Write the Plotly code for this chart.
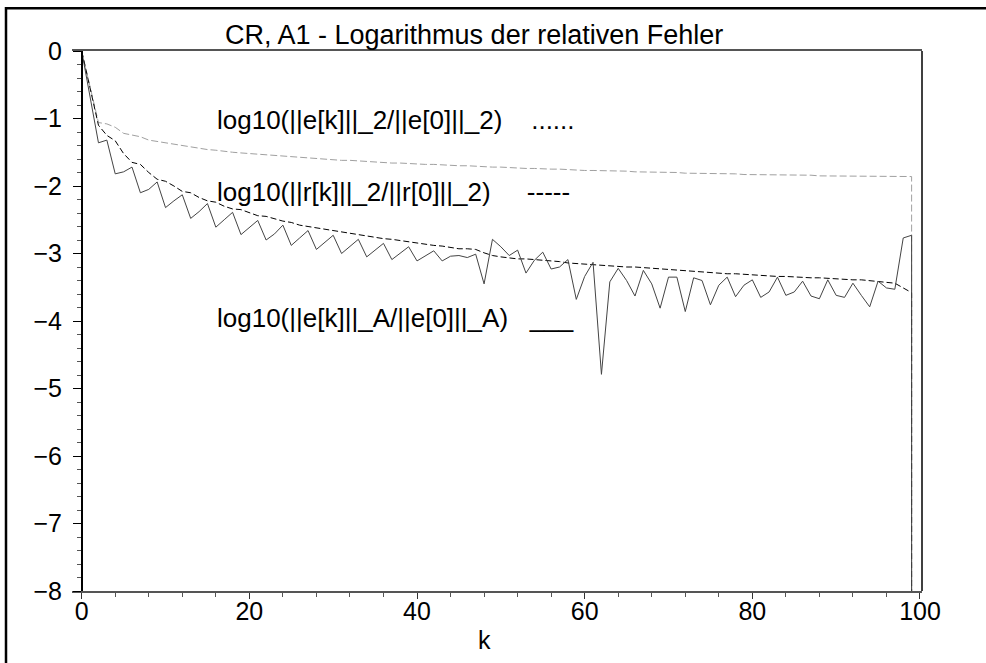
import plotly.graph_objects as go

# iteration index k (last entry repeats k=99: the exact solution, log10 -> very small)
k = list(range(100)) + [99]

err_A = [0, -0.68, -1.36, -1.32, -1.82, -1.79, -1.72, -2.10, -2.05, -1.94,
         -2.32, -2.22, -2.13, -2.48, -2.38, -2.26, -2.61, -2.50, -2.39, -2.72,
         -2.62, -2.51, -2.80, -2.71, -2.58, -2.88, -2.77, -2.66, -2.94, -2.84,
         -2.73, -3.00, -2.90, -2.79, -3.05, -2.95, -2.85, -3.09, -3.00, -2.90,
         -3.11, -3.03, -2.96, -3.11, -3.04, -3.03, -3.06, -3.01, -3.45, -2.79,
         -2.90, -3.03, -2.95, -3.29, -3.10, -2.98, -3.23, -3.20, -3.09, -3.68,
         -3.34, -3.13, -4.79, -3.42, -3.22, -3.40, -3.63, -3.25, -3.45, -3.81,
         -3.35, -3.35, -3.86, -3.36, -3.40, -3.76, -3.47, -3.35, -3.64, -3.47,
         -3.39, -3.65, -3.57, -3.35, -3.62, -3.57, -3.41, -3.63, -3.67, -3.39,
         -3.62, -3.65, -3.44, -3.62, -3.79, -3.41, -3.51, -3.53, -2.77, -2.73,
         -16.0]

res_2 = [0, -0.55, -1.10, -1.25, -1.33, -1.52, -1.65, -1.68, -1.80, -1.90,
         -1.93, -2.00, -2.08, -2.10, -2.17, -2.22, -2.24, -2.30, -2.34, -2.35,
         -2.40, -2.44, -2.45, -2.49, -2.52, -2.54, -2.58, -2.60, -2.62, -2.65,
         -2.67, -2.69, -2.71, -2.73, -2.74, -2.76, -2.78, -2.79, -2.81, -2.83,
         -2.84, -2.86, -2.88, -2.89, -2.91, -2.93, -2.93, -2.94, -2.99, -3.03,
         -3.05, -3.07, -3.08, -3.08, -3.09, -3.09, -3.11, -3.12, -3.14, -3.15,
         -3.15, -3.16, -3.17, -3.18, -3.19, -3.20, -3.20, -3.21, -3.22, -3.22,
         -3.23, -3.24, -3.25, -3.26, -3.27, -3.28, -3.29, -3.30, -3.30, -3.31,
         -3.31, -3.32, -3.33, -3.34, -3.34, -3.35, -3.35, -3.36, -3.36, -3.37,
         -3.38, -3.38, -3.39, -3.39, -3.40, -3.41, -3.42, -3.44, -3.51, -3.58,
         -16.0]

err_2 = [0, -0.53, -1.06, -1.08, -1.13, -1.22, -1.25, -1.27, -1.32, -1.34,
         -1.36, -1.39, -1.41, -1.42, -1.45, -1.46, -1.47, -1.49, -1.50, -1.51,
         -1.52, -1.53, -1.54, -1.55, -1.56, -1.57, -1.58, -1.59, -1.59, -1.60,
         -1.61, -1.62, -1.62, -1.63, -1.64, -1.64, -1.65, -1.66, -1.66, -1.67,
         -1.67, -1.68, -1.68, -1.69, -1.69, -1.70, -1.70, -1.71, -1.71, -1.72,
         -1.72, -1.73, -1.73, -1.74, -1.74, -1.75, -1.75, -1.75, -1.76, -1.76,
         -1.77, -1.77, -1.77, -1.78, -1.78, -1.78, -1.79, -1.79, -1.79, -1.80,
         -1.80, -1.80, -1.81, -1.81, -1.81, -1.82, -1.82, -1.82, -1.82, -1.83,
         -1.83, -1.83, -1.83, -1.84, -1.84, -1.84, -1.84, -1.84, -1.85, -1.85,
         -1.85, -1.85, -1.85, -1.85, -1.86, -1.86, -1.86, -1.86, -1.86, -1.86,
         -16.0]

x_ticks = [0, 20, 40, 60, 80, 100]
y_ticks = [0, -1, -2, -3, -4, -5, -6, -7, -8]
y_tick_text = ["0", "\u22121", "\u22122", "\u22123", "\u22124", "\u22125", "\u22126", "\u22127", "\u22128"]

title_text = "CR, A1 - Logarithmus der relativen Fehler"
label_e2 = "log10(||e[k]||_2/||e[0]||_2)" + "\u00a0" * 4 + "......"
label_r2 = "log10(||r[k]||_2/||r[0]||_2)" + "\u00a0" * 5 + "-----"
label_eA = "log10(||e[k]||_A/||e[0]||_A)" + "\u00a0" * 3 + "___"

FONT = "Liberation Sans, Arial, Helvetica, sans-serif"

fig = go.Figure()
fig.add_trace(go.Scatter(x=k, y=err_2, mode="lines",
                         line=dict(color="#a0a0a0", width=1, dash="7px,3px"),
                         showlegend=False, hoverinfo="skip"))
fig.add_trace(go.Scatter(x=k, y=res_2, mode="lines",
                         line=dict(color="#000000", width=1, dash="6px,3px"),
                         showlegend=False, hoverinfo="skip"))
fig.add_trace(go.Scatter(x=k, y=err_A, mode="lines",
                         line=dict(color="#444444", width=1),
                         showlegend=False, hoverinfo="skip"))

L, R, T, B = 72, 64, 51, 72
W, H = 986, 663
pw, ph = W - L - R, H - T - B

def px(xp):
    return (xp - L) / pw

def py(yp):
    return (H - B - yp) / ph

fig.update_layout(
    width=W, height=H,
    margin=dict(l=L, r=R, t=T, b=B, pad=0),
    paper_bgcolor="white", plot_bgcolor="white",
    font=dict(family=FONT, size=25, color="black"),
    xaxis=dict(range=[-1.157, 100.24], tickmode="array", tickvals=x_ticks,
               showgrid=False, zeroline=False,
               showline=True, linecolor="#555555", linewidth=2, mirror=True,
               ticks="outside", ticklen=6, tickcolor="#333333", tickwidth=1,
               ticklabelstandoff=-9,
               minor=dict(dtick=4, ticks="outside", ticklen=4, tickcolor="#555555", tickwidth=1),
               tickfont=dict(family=FONT, size=25, color="black")),
    yaxis=dict(range=[-8, 0], tickmode="array", tickvals=y_ticks, ticktext=y_tick_text,
               anchor="free", position=px(81.7),
               showgrid=False, zeroline=False,
               showline=True, linecolor="#000000", linewidth=1.5,
               ticks="outside", ticklen=8, tickcolor="#000000", tickwidth=1,
               ticklabelstandoff=6,
               minor=dict(dtick=0.2, ticks="outside", ticklen=4, tickcolor="#555555", tickwidth=1),
               tickfont=dict(family=FONT, size=25, color="black")),
)

# right border of the plot box
fig.add_shape(type="line", xref="paper", yref="paper", x0=1, x1=1, y0=0, y1=1,
              line=dict(color="black", width=1.5))
# outer frame: top and left edges only (right/bottom lie outside the picture)
fig.add_shape(type="line", xref="paper", yref="paper",
              x0=px(5), x1=px(1000), y0=py(8.3), y1=py(8.3),
              line=dict(color="black", width=2.5))
fig.add_shape(type="line", xref="paper", yref="paper",
              x0=px(6), x1=px(6), y0=py(7), y1=py(700),
              line=dict(color="black", width=2.5))

fig.add_annotation(text=title_text, xref="paper", yref="paper", x=px(474), y=py(35),
                   xanchor="center", yanchor="middle", showarrow=False,
                   font=dict(family=FONT, size=27, color="black"))
fig.add_annotation(text="k", xref="paper", yref="paper", x=px(484), y=py(640),
                   xanchor="center", yanchor="middle", showarrow=False,
                   font=dict(family=FONT, size=25, color="black"))
for txt, yc in [(label_e2, 120), (label_r2, 192), (label_eA, 318)]:
    fig.add_annotation(text=txt, xref="paper", yref="paper", x=px(215), y=py(yc),
                       xanchor="left", yanchor="middle", showarrow=False,
                       font=dict(family=FONT, size=26, color="black"))

fig.write_html("out.html")
